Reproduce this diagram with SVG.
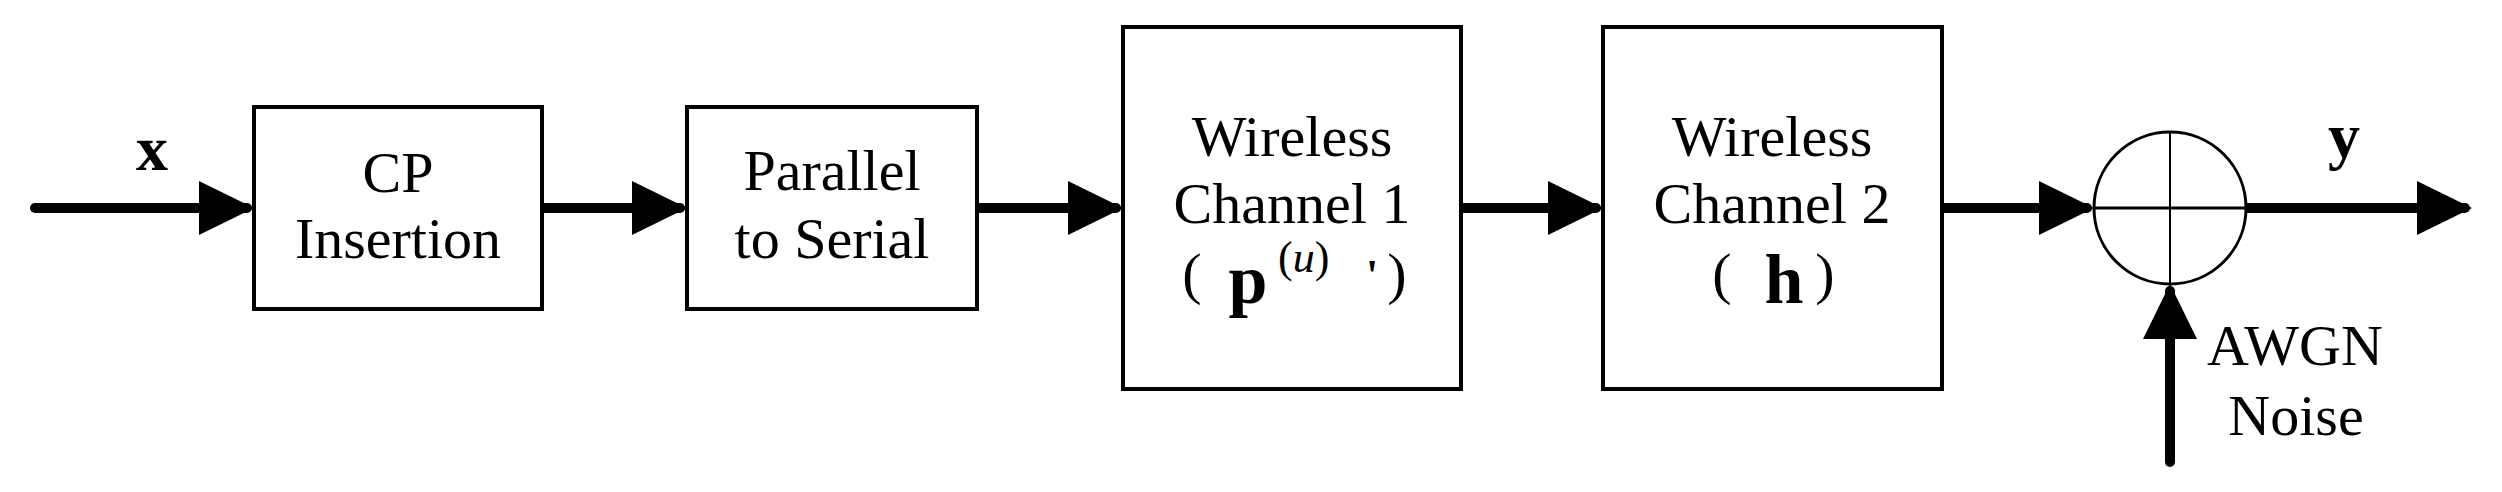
<svg xmlns="http://www.w3.org/2000/svg" width="2502" height="492" viewBox="0 0 2502 492">
<style>
.box{fill:#fff;stroke:#000;stroke-width:4}
.t{font-family:"Liberation Serif",serif;font-size:58px;fill:#000;text-anchor:middle}
.b{font-family:"Liberation Serif",serif;font-weight:bold;fill:#000;text-anchor:middle}
.ln{stroke:#000;stroke-width:10;stroke-linecap:round;fill:none}
</style>
<defs>
<marker id="ah" markerUnits="userSpaceOnUse" markerWidth="56" markerHeight="56" refX="48" refY="27" orient="auto"><path d="M0,0 L55,27 L0,54 Z" fill="#000"/></marker>
</defs>
<rect width="2502" height="492" fill="#fff"/>
<g id="connectors">
<line class="ln" x1="35" y1="208" x2="247" y2="208" marker-end="url(#ah)"/>
<line class="ln" x1="542" y1="208" x2="680" y2="208" marker-end="url(#ah)"/>
<line class="ln" x1="977" y1="208" x2="1116" y2="208" marker-end="url(#ah)"/>
<line class="ln" x1="1461" y1="208" x2="1596" y2="208" marker-end="url(#ah)"/>
<line class="ln" x1="1942" y1="208" x2="2087" y2="208" marker-end="url(#ah)"/>
<line class="ln" x1="2246" y1="208" x2="2465" y2="208" marker-end="url(#ah)"/>
<line class="ln" x1="2170" y1="462" x2="2170" y2="291" marker-end="url(#ah)"/>
</g>
<g id="cp"><rect class="box" x="254" y="107" width="288" height="202"/><text class="t" x="398" y="192">CP</text><text class="t" x="398" y="258">Insertion</text></g>
<g id="ps"><rect class="box" x="687" y="107" width="290" height="202"/><text class="t" x="832" y="190">Parallel</text><text class="t" x="832" y="258">to Serial</text></g>
<g id="ch1"><rect class="box" x="1123" y="27" width="338" height="362"/><text class="t" x="1292" y="156">Wireless</text><text class="t" x="1292" y="223">Channel 1</text>
<text class="t" x="1192" y="293">(</text><text class="b" x="1248" y="303" font-size="70">p</text><text font-family="Liberation Serif,serif" font-size="44" x="1278" y="272">(<tspan font-style="italic">u</tspan>)</text><text class="b" x="1372" y="290" font-size="44">'</text><text class="t" x="1397" y="293">)</text></g>
<g id="ch2"><rect class="box" x="1603" y="27" width="339" height="362"/><text class="t" x="1772" y="156">Wireless</text><text class="t" x="1772" y="223">Channel 2</text>
<text class="t" x="1722" y="293">(</text><text class="b" x="1784" y="303" font-size="70">h</text><text class="t" x="1825" y="293">)</text></g>
<g id="sum"><circle cx="2170" cy="208" r="76" fill="#fff" stroke="#000" stroke-width="3"/><line x1="2094" y1="208" x2="2246" y2="208" stroke="#000" stroke-width="3"/><line x1="2170" y1="132" x2="2170" y2="284" stroke="#000" stroke-width="2"/></g>
<g id="labels">
<text class="b" x="152" y="170" font-size="64">x</text>
<text class="b" x="2344" y="157" font-size="64">y</text>
<text class="t" x="2295" y="365">AWGN</text>
<text class="t" x="2296" y="435">Noise</text>
</g>
</svg>
